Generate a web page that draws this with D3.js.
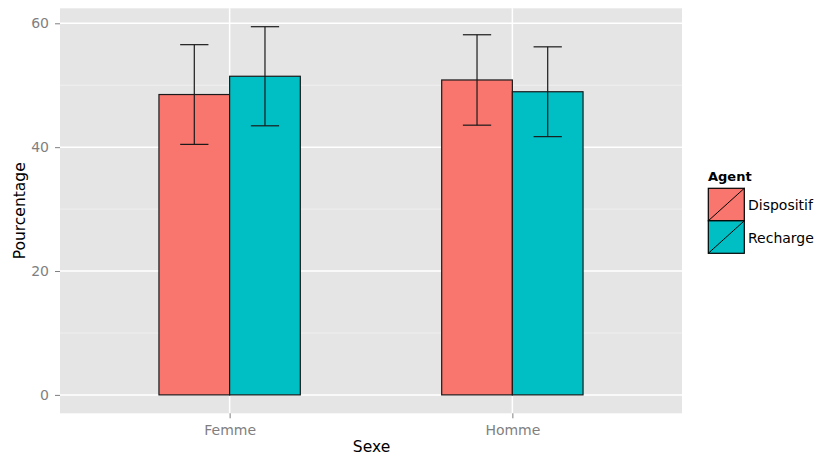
<!DOCTYPE html>
<html>
<head>
<meta charset="utf-8">
<script src="https://cdn.jsdelivr.net/npm/d3@7"></script>
<style>
  body { margin: 0; background: #fff; }
  svg { display: block; font-family: "DejaVu Sans", Arial, sans-serif; }
</style>
</head>
<body>
<svg id="chart" width="817" height="457"></svg>
<script>
// Percentage by sex and agent, with error bars
const sexes = ["Femme", "Homme"];
const agents = ["Dispositif", "Recharge"];
const agentColors = ["#F8766D", "#00BFC4"];
const meanValues = [
  [48.5, 51.45],   // Femme: Dispositif, Recharge
  [50.85, 48.95]   // Homme: Dispositif, Recharge
];
const errorValues = [
  [8.05, 8.0],
  [7.3, 7.25]
];
const yTicks = [0, 20, 40, 60];
const yMinor = [10, 30, 50];

const FONT = "DejaVu Sans, Arial, sans-serif";
const svg = d3.select("#chart");
const panel = { left: 60, right: 682, top: 8.3, bottom: 413.3 };

const rows = [];
sexes.forEach((s, i) => agents.forEach((a, j) => rows.push({
  sex: s, agent: a, j, value: meanValues[i][j], err: errorValues[i][j]
})));

// ggplot-style expansion of the continuous y axis (5% of data range)
const yMax = d3.max(rows, d => d.value + d.err);
const pad = yMax * 0.05;
const y = d3.scaleLinear().domain([-pad, yMax + pad]).range([panel.bottom, panel.top]);

// discrete x with 0.6 unit padding on either side
const xUnit = d3.scaleLinear().domain([0.4, sexes.length + 0.6]).range([panel.left, panel.right]);
const xPos = s => xUnit(sexes.indexOf(s) + 1);
const barW = xUnit(1.25) - xUnit(1);

// panel background
svg.append("rect")
  .attr("x", panel.left).attr("y", panel.top)
  .attr("width", panel.right - panel.left).attr("height", panel.bottom - panel.top)
  .attr("fill", "#e5e5e5");

// minor grid
svg.append("g").selectAll("line").data(yMinor).join("line")
  .attr("x1", panel.left).attr("x2", panel.right)
  .attr("y1", d => y(d)).attr("y2", d => y(d))
  .attr("stroke", "#f2f2f2").attr("stroke-width", 0.8);

// major grid
svg.append("g").selectAll("line").data(yTicks).join("line")
  .attr("x1", panel.left).attr("x2", panel.right)
  .attr("y1", d => y(d)).attr("y2", d => y(d))
  .attr("stroke", "#fff").attr("stroke-width", 1.5);
svg.append("g").selectAll("line").data(sexes).join("line")
  .attr("x1", d => xPos(d)).attr("x2", d => xPos(d))
  .attr("y1", panel.top).attr("y2", panel.bottom)
  .attr("stroke", "#fff").attr("stroke-width", 1.5);

// bars
svg.append("g").selectAll("rect").data(rows).join("rect")
  .attr("x", d => xPos(d.sex) + (d.j - 1) * barW)
  .attr("y", d => y(d.value))
  .attr("width", barW)
  .attr("height", d => y(0) - y(d.value))
  .attr("fill", d => agentColors[d.j])
  .attr("stroke", "#1a1a1a").attr("stroke-width", 1.2);

// error bars
const capW = xUnit(1.1) - xUnit(1);
const eb = svg.append("g").attr("stroke", "#1a1a1a").attr("stroke-width", 1.2);
rows.forEach(d => {
  const cx = xPos(d.sex) + (d.j - 0.5) * barW;
  eb.append("line").attr("x1", cx).attr("x2", cx)
    .attr("y1", y(d.value - d.err)).attr("y2", y(d.value + d.err));
  [d.value - d.err, d.value + d.err].forEach(v => {
    eb.append("line").attr("x1", cx - capW / 2).attr("x2", cx + capW / 2)
      .attr("y1", y(v)).attr("y2", y(v));
  });
});

// y axis
const yAxis = svg.append("g").attr("transform", `translate(${panel.left},0)`)
  .call(d3.axisLeft(y).tickValues(yTicks).tickSize(5).tickPadding(6));
yAxis.select(".domain").remove();
yAxis.selectAll(".tick line").attr("stroke", "#7f7f7f");
yAxis.selectAll(".tick text").attr("fill", "#7f7f7f").attr("font-size", 14)
  .attr("font-family", FONT);

// x axis
const xAxisScale = d3.scalePoint().domain(sexes).range([xPos(sexes[0]), xPos(sexes[1])]);
const xAxis = svg.append("g").attr("transform", `translate(0,${panel.bottom})`)
  .call(d3.axisBottom(xAxisScale).tickSize(5).tickPadding(7));
xAxis.select(".domain").remove();
xAxis.selectAll(".tick line").attr("stroke", "#7f7f7f");
xAxis.selectAll(".tick text").attr("fill", "#7f7f7f").attr("font-size", 14)
  .attr("font-family", FONT);

// axis titles
svg.append("text").attr("x", (panel.left + panel.right) / 2 + 0.5).attr("y", 452)
  .attr("text-anchor", "middle").attr("font-size", 15.5).text("Sexe");
svg.append("text")
  .attr("transform", `translate(25,${(panel.top + panel.bottom) / 2}) rotate(-90)`)
  .attr("text-anchor", "middle").attr("font-size", 15.5).text("Pourcentage");

// legend
const lg = svg.append("g").attr("transform", "translate(708,171)");
lg.append("text").attr("x", 0).attr("y", 9.5).attr("font-size", 13)
  .attr("font-weight", "bold").text("Agent");
const keyW = 36, keyH = 32.5, keyTop = 17.3;
agents.forEach((a, j) => {
  const ky = keyTop + j * keyH;
  lg.append("rect").attr("x", 0.3).attr("y", ky).attr("width", keyW).attr("height", keyH)
    .attr("fill", agentColors[j]).attr("stroke", "#000").attr("stroke-width", 1.2);
  lg.append("line").attr("x1", 0.3).attr("y1", ky + keyH).attr("x2", keyW + 0.3).attr("y2", ky)
    .attr("stroke", "#000").attr("stroke-width", 1);
  lg.append("text").attr("x", keyW + 4).attr("y", ky + keyH / 2 + 5.5)
    .attr("font-size", 14).text(a);
});
</script>
</body>
</html>
